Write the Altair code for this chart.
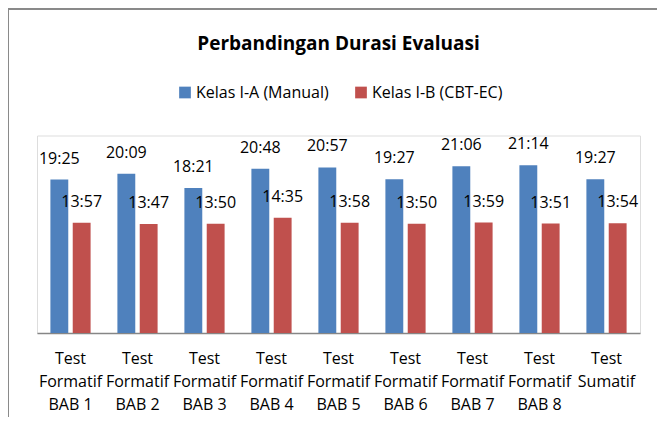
import altair as alt
import pandas as pd

categories = [
    "Test|Formatif|BAB 1", "Test|Formatif|BAB 2", "Test|Formatif|BAB 3",
    "Test|Formatif|BAB 4", "Test|Formatif|BAB 5", "Test|Formatif|BAB 6",
    "Test|Formatif|BAB 7", "Test|Formatif|BAB 8", "Test|Sumatif",
]
series = ["Kelas I-A (Manual)", "Kelas I-B (CBT-EC)"]
manual = ["19:25", "20:09", "18:21", "20:48", "20:57", "19:27", "21:06", "21:14", "19:27"]
cbt = ["13:57", "13:47", "13:50", "14:35", "13:58", "13:50", "13:59", "13:51", "13:54"]
colors = ["#4F81BD", "#C0504D"]

FONT = "Open Sans"


def to_minutes(s):
    m, sec = s.split(":")
    return int(m) + int(sec) / 60.0


rows = []
for name, vals in zip(series, [manual, cbt]):
    for c, v in zip(categories, vals):
        rows.append({"category": c, "kelas": name, "label": v, "value": to_minutes(v)})
df = pd.DataFrame(rows)

W, H = 603, 197.5
PAD_L, PAD_T, PAD_R, PAD_B = 29, 127.5, 17, 84

x = alt.X(
    "category:N", sort=categories, title=None,
    scale=alt.Scale(paddingInner=0.4, paddingOuter=0.2),
    axis=alt.Axis(
        labelAngle=0, labelExpr="split(datum.label, '|')", labelFont=FONT,
        labelFontSize=16, labelColor="#000000", labelLineHeight=23,
        labelPadding=17, ticks=False, domainColor="#868686", domainWidth=1.5,
        labelLimit=0,
    ),
)
xo = alt.XOffset("kelas:N", sort=series, scale=alt.Scale(paddingInner=0.2))
y = alt.Y("value:Q", scale=alt.Scale(domain=[0, 25]), axis=None)

base = alt.Chart(df)

bars = base.mark_bar().encode(
    x=x, xOffset=xo, y=y,
    color=alt.Color(
        "kelas:N", sort=series,
        scale=alt.Scale(domain=series, range=colors),
        legend=alt.Legend(
            orient="none", legendX=140, legendY=-51, direction="horizontal",
            title=None, symbolType="square", symbolSize=137, symbolStrokeWidth=0,
            labelFont=FONT, labelFontSize=16, labelColor="#000000",
            columnPadding=24, labelOffset=3, padding=0,
        ),
    ),
)

labels = base.mark_text(
    font=FONT, fontSize=16, color="#000000", baseline="alphabetic", dy=-16
).encode(x=x, xOffset=xo, y=y, text="label:N")

frame_top = alt.Chart(df).mark_rule(color="#898989", strokeWidth=2).encode(
    x=alt.value(-PAD_L - 0.5), x2=alt.value(W + PAD_R), y=alt.value(-PAD_T + 0.5)
)
frame_left = alt.Chart(df).mark_rule(color="#898989", strokeWidth=2).encode(
    x=alt.value(-PAD_L - 0.5), y=alt.value(-PAD_T), y2=alt.value(H + PAD_B)
)

chart = (
    alt.layer(bars, labels, frame_top, frame_left)
    .properties(
        width=W, height=H,
        title=alt.TitleParams(
            "Perbandingan Durasi Evaluasi", font=FONT, fontSize=19,
            fontWeight="bold", color="#000000", anchor="middle", offset=-47,
        ),
        autosize=alt.AutoSizeParams(type="none"),
        padding={"left": PAD_L, "top": PAD_T, "right": PAD_R, "bottom": PAD_B},
    )
    .configure_view(stroke=None)
    .configure(background="#ffffff")
)

chart.save("out.html", embed_options={"renderer": "svg", "actions": False})
